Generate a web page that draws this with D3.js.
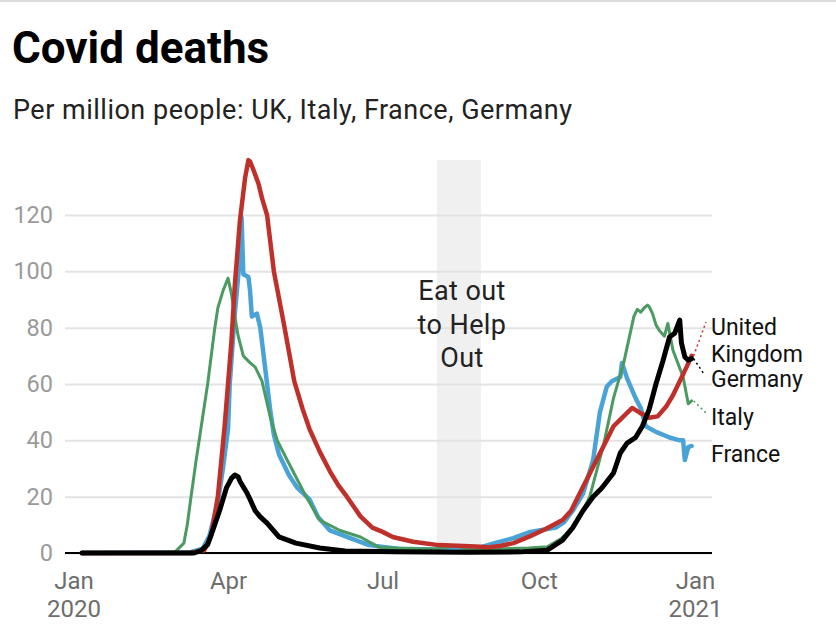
<!DOCTYPE html>
<html>
<head>
<meta charset="utf-8">
<script src="https://cdn.jsdelivr.net/npm/d3@7"></script>
<style>
  html, body { margin: 0; padding: 0; background: #fff; }
  svg { display: block; font-family: Roboto, "Noto Sans", sans-serif; }
</style>
</head>
<body>
<svg id="chart" width="836" height="640"></svg>
<script>
// ---------- DATA ----------
const title = "Covid deaths";
const subtitle = "Per million people: UK, Italy, France, Germany";

const yTicks = [0, 20, 40, 60, 80, 100, 120];
const xTickDates = ["2020-01-01", "2020-04-01", "2020-07-01", "2020-10-01", "2021-01-01"];
const xTickLabels = ["Jan", "Apr", "Jul", "Oct", "Jan"];
const xTickYears = ["2020", "", "", "", "2021"];

const eatOutPeriod = ["2020-08-02", "2020-08-28"];
const eatOutLabel = ["Eat out", "to Help", "Out"];

const ukData = [
  ["2020-01-06", 0], ["2020-03-10", 0], ["2020-03-18", 1], ["2020-03-22", 6], ["2020-03-26", 20],
  ["2020-03-30", 45], ["2020-04-03", 75], ["2020-04-05", 95], ["2020-04-08", 118], ["2020-04-11", 133],
  ["2020-04-13", 139.5], ["2020-04-14", 139], ["2020-04-16", 136], ["2020-04-19", 131], ["2020-04-21", 126],
  ["2020-04-24", 120], ["2020-04-28", 100], ["2020-05-04", 81], ["2020-05-10", 61], ["2020-05-15", 51],
  ["2020-05-19", 44], ["2020-05-25", 36], ["2020-05-31", 29], ["2020-06-05", 24], ["2020-06-10", 20],
  ["2020-06-18", 13], ["2020-06-25", 9], ["2020-07-01", 7.5], ["2020-07-07", 5.7], ["2020-07-19", 4],
  ["2020-08-03", 2.8], ["2020-08-25", 2.3], ["2020-09-01", 2], ["2020-09-08", 2.5], ["2020-09-16", 3.5],
  ["2020-09-26", 6], ["2020-10-05", 8.5], ["2020-10-15", 11.7], ["2020-10-20", 15], ["2020-10-25", 21],
  ["2020-10-30", 27], ["2020-11-04", 33], ["2020-11-09", 39], ["2020-11-14", 45], ["2020-11-19", 48],
  ["2020-11-25", 51.5], ["2020-11-29", 50], ["2020-12-05", 48], ["2020-12-10", 48.5], ["2020-12-15", 52],
  ["2020-12-19", 56], ["2020-12-23", 61], ["2020-12-27", 66], ["2020-12-30", 70]
];

const italyData = [
  ["2020-01-06", 0], ["2020-02-22", 0], ["2020-03-01", 0.5], ["2020-03-06", 3.5], ["2020-03-08", 10],
  ["2020-03-10", 19], ["2020-03-13", 32], ["2020-03-16", 44], ["2020-03-20", 60], ["2020-03-24", 79],
  ["2020-03-26", 87], ["2020-03-29", 93], ["2020-04-01", 97.6], ["2020-04-03", 92], ["2020-04-05", 84],
  ["2020-04-07", 77], ["2020-04-10", 70], ["2020-04-14", 67.5], ["2020-04-17", 66], ["2020-04-21", 61],
  ["2020-04-26", 48], ["2020-04-30", 40], ["2020-05-05", 34], ["2020-05-11", 27], ["2020-05-17", 20],
  ["2020-05-25", 11.7], ["2020-06-06", 8], ["2020-06-18", 5.7], ["2020-06-29", 2], ["2020-07-15", 1.6],
  ["2020-08-01", 1.4], ["2020-08-12", 2.5], ["2020-08-20", 1.5], ["2020-09-10", 1.5], ["2020-09-25", 1.8],
  ["2020-10-06", 2.2], ["2020-10-14", 5], ["2020-10-21", 9], ["2020-10-26", 14], ["2020-10-31", 20],
  ["2020-11-04", 29], ["2020-11-08", 38], ["2020-11-14", 55], ["2020-11-20", 67.5], ["2020-11-26", 84],
  ["2020-11-28", 86.5], ["2020-11-30", 85.5], ["2020-12-02", 87], ["2020-12-04", 88], ["2020-12-05", 87.5],
  ["2020-12-07", 85], ["2020-12-09", 81], ["2020-12-11", 79], ["2020-12-14", 77], ["2020-12-16", 81.5],
  ["2020-12-19", 72], ["2020-12-25", 62.5], ["2020-12-28", 53], ["2020-12-30", 54]
];

const franceData = [
  ["2020-01-06", 0], ["2020-03-10", 0.3], ["2020-03-17", 1.5], ["2020-03-21", 6], ["2020-03-26", 18],
  ["2020-03-29", 30], ["2020-04-01", 44], ["2020-04-02", 60], ["2020-04-05", 85], ["2020-04-08", 105],
  ["2020-04-09", 119], ["2020-04-10", 99], ["2020-04-13", 98], ["2020-04-14", 93], ["2020-04-15", 84],
  ["2020-04-18", 85], ["2020-04-20", 80], ["2020-04-22", 70], ["2020-04-24", 60], ["2020-04-26", 50],
  ["2020-04-28", 42], ["2020-05-01", 35], ["2020-05-07", 27.5], ["2020-05-12", 23], ["2020-05-19", 19],
  ["2020-05-24", 12.8], ["2020-05-31", 8], ["2020-06-10", 5.7], ["2020-06-23", 2.8], ["2020-07-10", 1.5],
  ["2020-08-01", 1.2], ["2020-08-25", 1.5], ["2020-09-05", 3.5], ["2020-09-16", 5.3], ["2020-09-26", 7.5],
  ["2020-10-01", 8], ["2020-10-11", 9], ["2020-10-16", 11], ["2020-10-21", 15], ["2020-10-27", 21],
  ["2020-11-02", 33], ["2020-11-06", 50], ["2020-11-10", 59], ["2020-11-13", 61], ["2020-11-18", 62.5],
  ["2020-11-19", 67.5], ["2020-11-22", 62], ["2020-11-27", 55], ["2020-11-30", 51.5], ["2020-12-03", 45],
  ["2020-12-09", 43], ["2020-12-17", 41], ["2020-12-23", 40], ["2020-12-25", 40], ["2020-12-26", 33],
  ["2020-12-28", 37.6], ["2020-12-30", 38]
];

const germanyData = [
  ["2020-01-06", 0], ["2020-03-12", 0], ["2020-03-16", 0.8], ["2020-03-20", 3], ["2020-03-23", 8],
  ["2020-03-27", 15], ["2020-03-31", 23], ["2020-04-03", 26.5], ["2020-04-05", 27.7], ["2020-04-07", 27],
  ["2020-04-08", 25.5], ["2020-04-12", 21.5], ["2020-04-14", 19], ["2020-04-17", 15], ["2020-04-20", 12.8],
  ["2020-04-24", 10.6], ["2020-05-01", 5.7], ["2020-05-11", 3.5], ["2020-05-25", 1.8], ["2020-06-09", 0.7],
  ["2020-07-10", 0.4], ["2020-08-20", 0.3], ["2020-09-20", 0.4], ["2020-10-06", 1], ["2020-10-15", 4.6],
  ["2020-10-21", 9], ["2020-10-27", 15], ["2020-11-02", 20], ["2020-11-07", 23], ["2020-11-14", 28.4],
  ["2020-11-18", 35.5], ["2020-11-22", 39], ["2020-11-27", 41], ["2020-12-01", 45], ["2020-12-05", 51],
  ["2020-12-09", 60], ["2020-12-13", 68], ["2020-12-17", 76.7], ["2020-12-20", 78], ["2020-12-23", 82.7],
  ["2020-12-24", 74.6], ["2020-12-26", 69.6], ["2020-12-28", 68.5], ["2020-12-30", 69]
];

const seriesNames = ["France", "Italy", "United Kingdom", "Germany"];
const seriesColors = ["#4aa3d6", "#4a9a62", "#c0302a", "#000000"];

// ---------- CHART ----------
const parse = d3.timeParse("%Y-%m-%d");
const svg = d3.select("#chart");

// top rule
svg.append("rect").attr("x", 0).attr("y", 0).attr("width", 836).attr("height", 2).attr("fill", "#dcdcdc");

svg.append("text").attr("x", 12).attr("y", 63)
  .attr("font-size", 44).attr("font-weight", 700).attr("fill", "#000").text(title);
svg.append("text").attr("x", 13).attr("y", 119)
  .attr("font-size", 27).attr("letter-spacing", 0.5).attr("fill", "#222").text(subtitle);

const x = d3.scaleTime()
  .domain([parse("2019-12-27"), parse("2021-01-11")])
  .range([65, 712]);
const y = d3.scaleLinear().domain([0, 140]).range([553, 158.7]);

// Eat out band
svg.append("rect")
  .attr("x", x(parse(eatOutPeriod[0])))
  .attr("width", x(parse(eatOutPeriod[1])) - x(parse(eatOutPeriod[0])))
  .attr("y", y(139.5)).attr("height", y(0) - y(139.5))
  .attr("fill", "#f0f0f0");

// y axis + grid
const yAxis = svg.append("g").attr("transform", "translate(65,0)")
  .call(d3.axisLeft(y).tickValues(yTicks).tickSize(-(712 - 65)).tickPadding(12).tickFormat(d3.format("d")));
yAxis.select(".domain").remove();
yAxis.selectAll(".tick line").attr("stroke", "#e3e3e3").attr("stroke-width", 2);
yAxis.selectAll(".tick text").attr("font-size", 23.5).attr("fill", "#9a9a9a")
  .attr("font-family", "Roboto, sans-serif");

// zero line
svg.append("line").attr("x1", 65).attr("x2", 712).attr("y1", y(0)).attr("y2", y(0))
  .attr("stroke", "#000").attr("stroke-width", 2);

// x axis
const xAxis = svg.append("g").attr("transform", `translate(0,${y(0)})`)
  .call(d3.axisBottom(x).tickValues(xTickDates.map(parse)).tickSize(0).tickPadding(0)
    .tickFormat((d, i) => xTickLabels[i]));
xAxis.select(".domain").remove();
xAxis.selectAll(".tick text")
  .attr("font-size", 24).attr("fill", "#6e6e6e").attr("font-family", "Roboto, sans-serif")
  .attr("dy", null).attr("y", 36)
  .each(function (d, i) {
    if (xTickYears[i]) {
      d3.select(this).append("tspan").attr("x", 0).attr("dy", 28).text(xTickYears[i]);
    }
  });

// Eat out label
const eo = svg.append("text").attr("text-anchor", "middle").attr("font-size", 27)
  .attr("letter-spacing", 0.4).attr("fill", "#222");
eatOutLabel.forEach((t, i) => {
  eo.append("tspan").attr("x", 462).attr("y", 300 + i * 33.5).text(t);
});

// lines
const allData = [franceData, italyData, ukData, germanyData];
const widths = [4.5, 3, 4.5, 5];
const line = d3.line().x(d => x(parse(d[0]))).y(d => y(d[1])).curve(d3.curveLinear);
allData.forEach((data, i) => {
  svg.append("path").datum(data).attr("d", line)
    .attr("fill", "none").attr("stroke", seriesColors[i]).attr("stroke-width", widths[i])
    .attr("stroke-linejoin", "round").attr("stroke-linecap", "round");
});

// labels with dotted leaders
const lastOf = arr => arr[arr.length - 1];
const labelX = 711;
const labels = [
  { data: ukData, color: seriesColors[2], lines: ["United", "Kingdom"], y: 335, lx: 706, ly: 322 },
  { data: germanyData, color: seriesColors[3], lines: ["Germany"], y: 387, lx: 704, ly: 374 },
  { data: italyData, color: seriesColors[1], lines: ["Italy"], y: 425, lx: 706, ly: 413 },
  { data: franceData, color: seriesColors[0], lines: ["France"], y: 462, lx: null }
];
labels.forEach(l => {
  const last = lastOf(l.data);
  if (l.lx !== null) {
    svg.append("line")
      .attr("x1", x(parse(last[0])) + 2).attr("y1", y(last[1]))
      .attr("x2", l.lx).attr("y2", l.ly)
      .attr("stroke", l.color).attr("stroke-width", 1.5).attr("stroke-dasharray", "2,3");
  }
  const t = svg.append("text").attr("font-size", 23).attr("fill", "#111");
  l.lines.forEach((s, i) => t.append("tspan").attr("x", labelX).attr("y", l.y + i * 27).text(s));
});
</script>
</body>
</html>
